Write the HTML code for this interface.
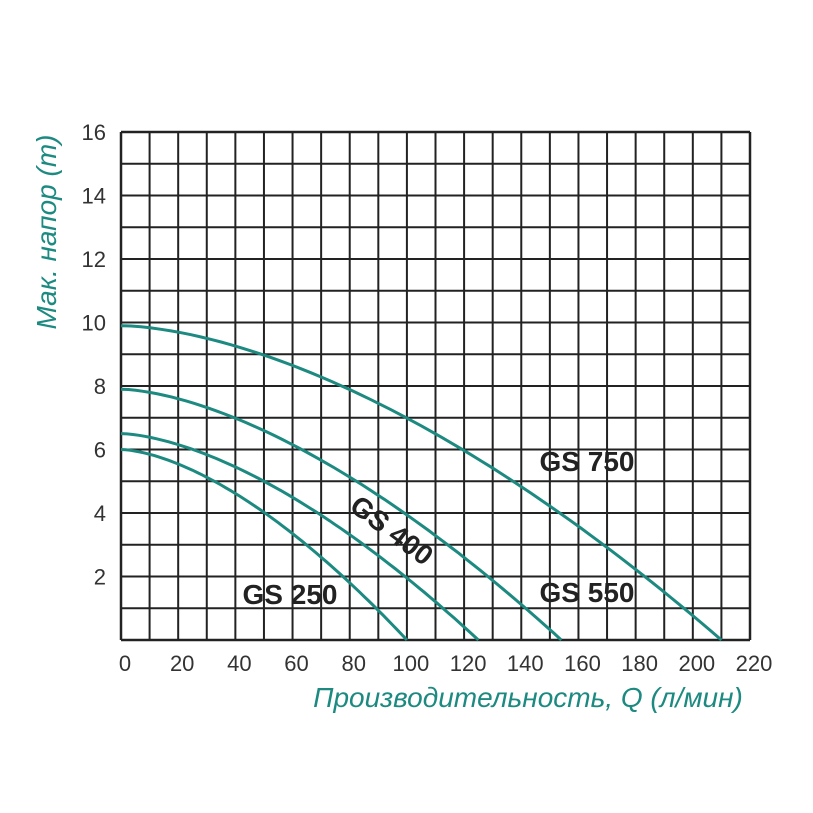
<!DOCTYPE html>
<html><head><meta charset="utf-8"><style>
html,body{margin:0;padding:0;background:#fff;width:813px;height:813px;overflow:hidden}
svg{display:block}
</style></head><body>
<svg id="s" width="813" height="813" xmlns="http://www.w3.org/2000/svg" font-family="Liberation Sans, sans-serif">
<g id="grid" stroke="#222" stroke-width="2"></g>
<g id="curves" fill="none" stroke="#1c8a80" stroke-width="3"></g>
<g id="ticks" font-size="22" fill="#333"></g>
<text x="587" y="471" font-size="28" font-weight="bold" fill="#222" text-anchor="middle">GS 750</text>
<text x="587" y="602" font-size="28" font-weight="bold" fill="#222" text-anchor="middle">GS 550</text>
<text x="290" y="604" font-size="28" font-weight="bold" fill="#222" text-anchor="middle">GS 250</text>
<text x="0" y="0" font-size="28" font-weight="bold" fill="#222" text-anchor="middle" transform="translate(386,538) rotate(37)">GS 400</text>
<text x="0" y="0" font-size="28" font-style="italic" fill="#1c8a80" text-anchor="middle" transform="translate(56,232) rotate(-90)">Мак. напор (m)</text>
<text x="528" y="707" font-size="28" font-style="italic" fill="#1c8a80" text-anchor="middle">Производительность, Q (л/мин)</text>
</svg>
<script>
var L=121,R=750,T=132,B=640,ns="http://www.w3.org/2000/svg";
function X(q){return L+(R-L)*q/220}function Y(h){return B-(B-T)*h/16}
var g=document.getElementById('grid'),t=document.getElementById('ticks'),c=document.getElementById('curves');
function el(p,n,a,txt){var e=document.createElementNS(ns,n);for(var k in a)e.setAttribute(k,a[k]);if(txt!=null)e.textContent=txt;p.appendChild(e);return e}
for(var i=0;i<=22;i++)el(g,'line',{x1:X(i*10),x2:X(i*10),y1:T,y2:B,'stroke-width':(i==0||i==22)?2.5:2});
for(var j=0;j<=16;j++)el(g,'line',{x1:L,x2:R,y1:Y(j),y2:Y(j),'stroke-width':(j==0||j==16)?2.5:2});
for(var i=0;i<=220;i+=20)el(t,'text',{x:X(i)+4,y:671,'text-anchor':'middle'},i);
for(var j=2;j<=16;j+=2)el(t,'text',{x:106,y:Y(j)+8,'text-anchor':'end'},j);
[[9.9,210,1.65],[7.9,154,1.6],[6.5,125,1.6],[6.0,100,1.6]].forEach(function(a){
 var d='';for(var k=0;k<=60;k++){var q=a[1]*k/60,h=a[0]*(1-Math.pow(q/a[1],a[2]));d+=(k?'L':'M')+X(q).toFixed(1)+' '+Y(h).toFixed(1)}
 el(c,'path',{d:d});});
</script>
</body></html>
